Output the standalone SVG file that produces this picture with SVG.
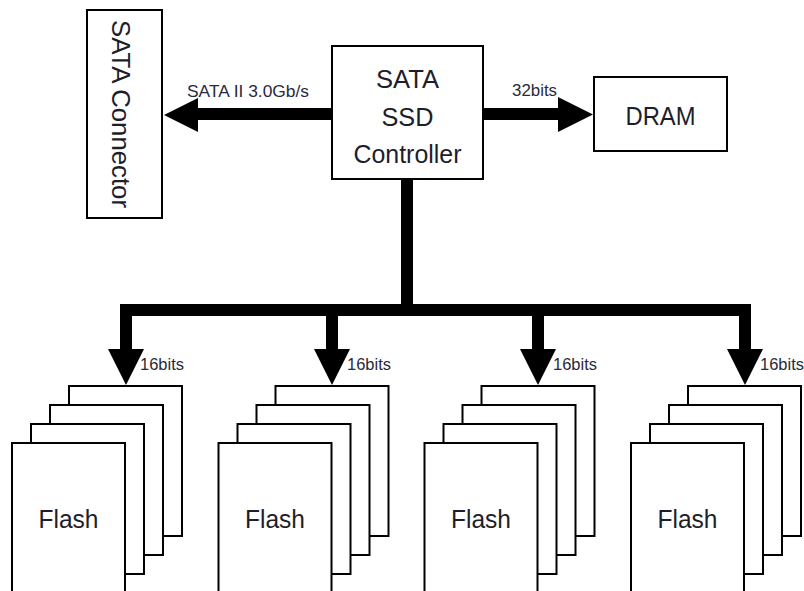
<svg xmlns="http://www.w3.org/2000/svg" width="804" height="591" viewBox="0 0 804 591">
  <style>
    .box { fill: #fff; stroke: #000; stroke-width: 2; }
    .big { font-family: "Liberation Sans", Arial, sans-serif; font-size: 26.5px; fill: #1e1e2a; }
    .lbl { font-family: "Liberation Sans", Arial, sans-serif; font-size: 16.5px; fill: #2a2a3a; }
    .bus { fill: none; stroke: #000; stroke-width: 12; stroke-linejoin: miter; }
    .head { fill: #000; }
  </style>
  <defs>
    <!-- one stack of four flash chips, back card first -->
    <g id="flashStack">
      <rect class="box" x="57" y="0" width="113" height="150"/>
      <rect class="box" x="38" y="19" width="113" height="150"/>
      <rect class="box" x="19" y="38" width="113" height="150"/>
      <rect class="box" x="0" y="57" width="113" height="150"/>
      <text class="big" x="56.5" y="142" text-anchor="middle" textLength="60" lengthAdjust="spacingAndGlyphs">Flash</text>
    </g>
  </defs>

  <rect width="804" height="591" fill="#fff"/>

  <g id="connectors">
    <!-- controller to SATA connector -->
    <line class="bus" x1="332" y1="114" x2="196" y2="114" stroke-width="11"/>
    <polygon class="head" points="164,115 198,98 198,132"/>
    <!-- controller to DRAM -->
    <line class="bus" x1="483" y1="114" x2="560" y2="114"/>
    <polygon class="head" points="593,114.5 558,97 558,132"/>
    <!-- flash bus -->
    <line class="bus" x1="407" y1="179" x2="407" y2="310"/>
    <path class="bus" d="M126,352 V310 H745 V352"/>
    <line class="bus" x1="332" y1="310" x2="332" y2="352"/>
    <line class="bus" x1="538" y1="310" x2="538" y2="352"/>
    <polygon class="head" points="108,349 144,349 126,385"/>
    <polygon class="head" points="314,349 350,349 332,385"/>
    <polygon class="head" points="520,349 556,349 538,385"/>
    <polygon class="head" points="727,349 763,349 745,385"/>
    <text class="lbl" x="187" y="97" textLength="122" lengthAdjust="spacingAndGlyphs">SATA II 3.0Gb/s</text>
    <text class="lbl" x="512" y="96" textLength="45" lengthAdjust="spacingAndGlyphs">32bits</text>
    <text class="lbl" x="140" y="370" textLength="44" lengthAdjust="spacingAndGlyphs">16bits</text>
    <text class="lbl" x="347" y="370" textLength="44" lengthAdjust="spacingAndGlyphs">16bits</text>
    <text class="lbl" x="553" y="370" textLength="44" lengthAdjust="spacingAndGlyphs">16bits</text>
    <text class="lbl" x="760" y="370" textLength="44" lengthAdjust="spacingAndGlyphs">16bits</text>
  </g>

  <g id="sata-connector">
    <rect class="box" x="87" y="10" width="75" height="208"/>
    <text class="big" transform="translate(112,114) rotate(90)" text-anchor="middle" textLength="188" lengthAdjust="spacingAndGlyphs">SATA Connector</text>
  </g>

  <g id="controller">
    <rect class="box" x="332" y="46" width="151" height="133"/>
    <text class="big" x="407.5" y="88" text-anchor="middle" textLength="63" lengthAdjust="spacingAndGlyphs">SATA</text>
    <text class="big" x="407.5" y="126" text-anchor="middle" textLength="52" lengthAdjust="spacingAndGlyphs">SSD</text>
    <text class="big" x="407.5" y="163" text-anchor="middle" textLength="108" lengthAdjust="spacingAndGlyphs">Controller</text>
  </g>

  <g id="dram">
    <rect class="box" x="594" y="77" width="133" height="74"/>
    <text class="big" x="660.5" y="125" text-anchor="middle" textLength="70" lengthAdjust="spacingAndGlyphs">DRAM</text>
  </g>

  <g id="flash-1"><use href="#flashStack" x="12" y="386"/></g>
  <g id="flash-2"><use href="#flashStack" x="218.5" y="386"/></g>
  <g id="flash-3"><use href="#flashStack" x="424.5" y="386"/></g>
  <g id="flash-4"><use href="#flashStack" x="631" y="386"/></g>
</svg>
